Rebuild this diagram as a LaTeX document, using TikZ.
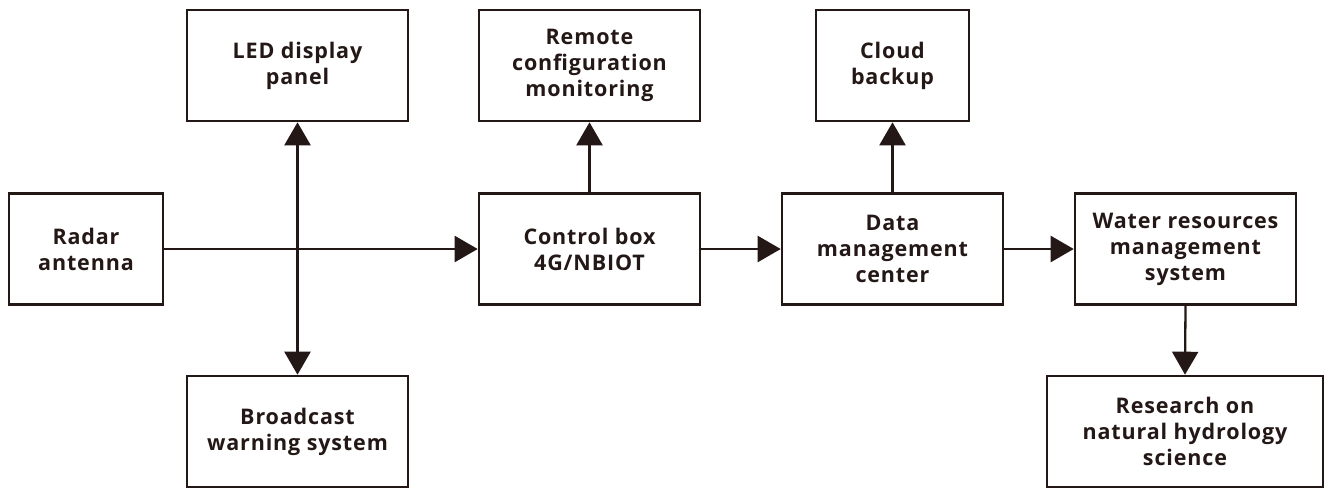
\documentclass[tikz,border=0pt]{standalone}
\usepackage{fontspec}
\setmainfont{Open Sans}[LetterSpace=4]
\usetikzlibrary{arrows.meta}
\definecolor{ink}{HTML}{231815}
\begin{document}
\begin{tikzpicture}[x=1pt,y=-1pt,
  blk/.style={draw=ink,line width=2.6pt,minimum height=111pt,inner sep=0pt,
    align=center,text=ink,font=\fontsize{21.5}{26}\selectfont\bfseries},
  link/.style={draw=ink,line width=2.3pt,-{Triangle[length=23pt,width=26pt]}},
  twoway/.style={draw=ink,line width=2.3pt,{Triangle[length=23pt,width=26pt]}-{Triangle[length=23pt,width=26pt]}}]
\useasboundingbox (0,0) rectangle (1325,488);
% top row
\node[blk,minimum width=221pt] (led) at (297.5,65.5) {LED display\\panel};
\node[blk,minimum width=221pt] (remote) at (589.5,65.5) {Remote\\configuration\\monitoring};
\node[blk,minimum width=153pt] (cloud) at (892.5,65.5) {Cloud\\backup};
% middle row
\node[blk,minimum width=154pt] (radar) at (86,249) {Radar\\antenna};
\node[blk,minimum width=221pt] (ctrl) at (589.5,249) {Control box\\4G/NBIOT};
\node[blk,minimum width=221pt] (data) at (892.5,249) {Data\\management\\center};
\node[blk,minimum width=221pt] (water) at (1185.5,249) {Water resources\\management\\system};
% bottom row
\node[blk,minimum width=221pt] (bcast) at (297.5,431.5) {Broadcast\\warning system};
\node[blk,minimum width=276pt] (research) at (1185,431.5) {Research on\\natural hydrology\\science};
% connectors
\draw[twoway] (led.south) -- (bcast.north);
\draw[link] (radar.east) -- (ctrl.west);
\draw[link] (ctrl.north) -- (remote.south);
\draw[link] (ctrl.east) -- (data.west);
\draw[link] (data.north) -- (cloud.south);
\draw[link] (data.east) -- (water.west);
\draw[link] (water.south) -- (research.north);
\end{tikzpicture}
\end{document}
